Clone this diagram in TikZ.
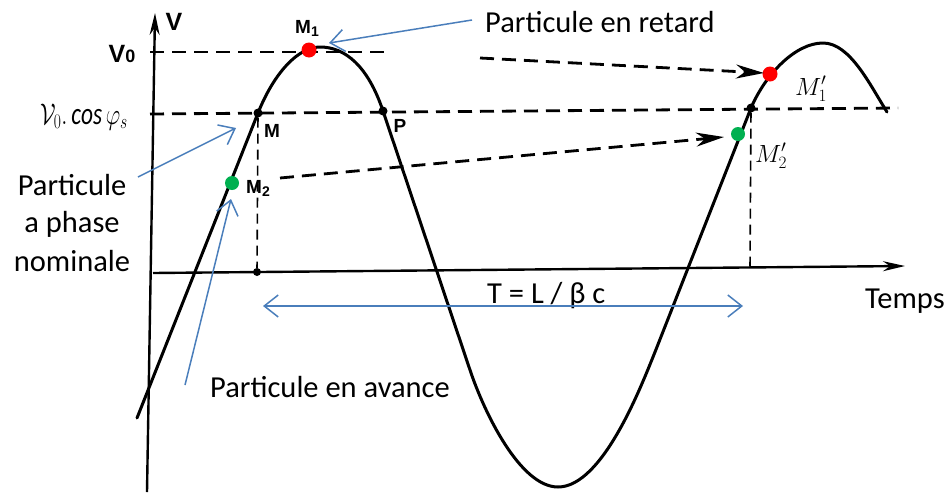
\documentclass[tikz,border=0pt]{standalone}
\usepackage{fontspec}
\setmainfont{Carlito}
\newfontfamily\helv{Liberation Sans}
\usetikzlibrary{arrows.meta}
\definecolor{arrblue}{RGB}{74,126,187}
\definecolor{ptred}{RGB}{255,0,0}
\definecolor{ptgreen}{RGB}{0,176,80}
\begin{document}
\begin{tikzpicture}[x=1pt,y=-1pt,
  curve/.style={line width=3pt, line join=round, line cap=round},
  axisline/.style={line width=2.4pt, -{Stealth[length=22pt,width=10pt]}},
  dsh/.style={line width=2.8pt, dash pattern=on 14pt off 8pt},
  dsharr/.style={dsh, -{Stealth[length=28pt,width=14pt,inset=9pt]}},
  thindsh/.style={line width=1.6pt, dash pattern=on 10pt off 6pt},
  blarr/.style={arrblue, line width=1.5pt, -{Straight Barb[length=14pt,width=22pt]}},
  bldbl/.style={arrblue, line width=1.5pt, {Straight Barb[length=14pt,width=22pt]}-{Straight Barb[length=14pt,width=22pt]}},
  lbl/.style={font=\fontsize{30.5}{36}\selectfont, inner sep=0pt},
  ptlbl/.style={font=\helv\bfseries\fontsize{19}{19}\selectfont, inner sep=0pt},
  axlbl/.style={font=\helv\bfseries\fontsize{25}{25}\selectfont, inner sep=0pt},
  hand/.style={font=\fontsize{26}{26}\selectfont, inner sep=0pt},
  bdot/.style={circle, fill=black, inner sep=0pt, minimum size=9pt},
  rdot/.style={circle, fill=ptred, inner sep=0pt, minimum size=15pt},
  gdot/.style={circle, fill=ptgreen, inner sep=0pt, minimum size=14pt},
]
\useasboundingbox (0,0) rectangle (952,493);
% axes
\coordinate (vb) at (147,492);
\coordinate (vt) at (155,13);
\coordinate (hl) at (153,273);
\coordinate (hr) at (905,266);
\draw[axisline] (vb) -- (vt);
\draw[axisline] (hl) -- (hr);
% points
\node[bdot] (M) at (258,113) {};
\node[bdot] (P) at (383,111) {};
\node[bdot] (Q) at (751,108) {};
\node[bdot, minimum size=8pt] (T0) at (257,272) {};
\coordinate (T1) at (750,268);
% dashed references
\coordinate (v0l) at (150,52);
\coordinate (v0r) at (388,52);
\coordinate (cl) at (150,114);
\coordinate (cr) at (898,108);
\draw[dsh] (v0l) -- (v0r);
\draw[dsh] (cl) -- (cr);
\draw[thindsh] (M) -- (T0);
\draw[thindsh] (Q) -- (T1);
% curve
\draw[curve] (137,418) -- (258,113)
  .. controls (274,73) and (298,47) .. (320,47)
  .. controls (345,47) and (368,66) .. (383,111)
  -- (470,370)
  .. controls (484,412) and (520,487) .. (558,487)
  .. controls (603,487) and (642,384) .. (655,352)
  -- (751,108)
  .. controls (765,75) and (795,43) .. (823,43)
  .. controls (850,43) and (870,85) .. (887,112);
% coloured particles
\node[rdot] (M1) at (309,50) {};
\node[gdot] (M2) at (232,183) {};
\node[rdot] (M1p) at (770,74) {};
\node[gdot] (M2p) at (738,134) {};
% dashed transfer arrows
\coordinate (a1s) at (480,58);
\coordinate (a1e) at (764,73);
\coordinate (a2s) at (280,178);
\coordinate (a2e) at (724,137);
\draw[dsharr] (a1s) -- (a1e);
\draw[dsharr] (a2s) -- (a2e);
% axis labels
\node[axlbl] (Vlab) at (174,22) {V};
\node[axlbl, anchor=base] (V0lab) at (122,62) {V{\fontsize{18}{18}\selectfont 0}};
\node[hand] (cosl) at (84,117) {\scalebox{0.9}[1.2]{$\mathcal{V}_{0}.\,\mathit{cos}\,\varphi_{s}$}};
\node[ptlbl, anchor=base] (Mlab) at (272,137) {M};
\node[ptlbl, anchor=base] (Plab) at (400,132) {P};
\node[ptlbl, anchor=base] (M1lab) at (307,33) {M\raisebox{-3pt}{\fontsize{14}{14}\selectfont 1}};
\node[ptlbl, anchor=base] (M2lab) at (258,193) {M\raisebox{-3pt}{\fontsize{14}{14}\selectfont 2}};
\node[hand, anchor=base] (M1plab) at (811,95) {$M'_1$};
\node[hand, anchor=base] (M2plab) at (771,162) {$M'_2$};
% text labels
\node[lbl, anchor=base west] (retard) at (485,32) {Particule en retard};
\node[lbl, anchor=base] (nom1) at (72,195) {Particule};
\node[lbl, anchor=base] (nom2) at (72,232) {a phase};
\node[lbl, anchor=base] (nom3) at (72,271) {nominale};
\node[lbl, anchor=base] (avance) at (330,397) {Particule en avance};
\node[lbl, anchor=base west] (Tlab) at (487,303) {T = L / β c};
\node[lbl, anchor=base west] (temps) at (865,308) {Temps};
% blue arrows
\coordinate (b1s) at (472,20);
\coordinate (b1e) at (329,43);
\coordinate (b2s) at (138,177);
\coordinate (b2e) at (236,128);
\coordinate (b3s) at (185,385);
\coordinate (b3e) at (231,199);
\coordinate (dl) at (263,306);
\coordinate (dr) at (743,306);
\draw[blarr] (b1s) -- (b1e);
\draw[blarr] (b2s) -- (b2e);
\draw[blarr] (b3s) -- (b3e);
\draw[bldbl] (dl) -- (dr);
\end{tikzpicture}
\end{document}
